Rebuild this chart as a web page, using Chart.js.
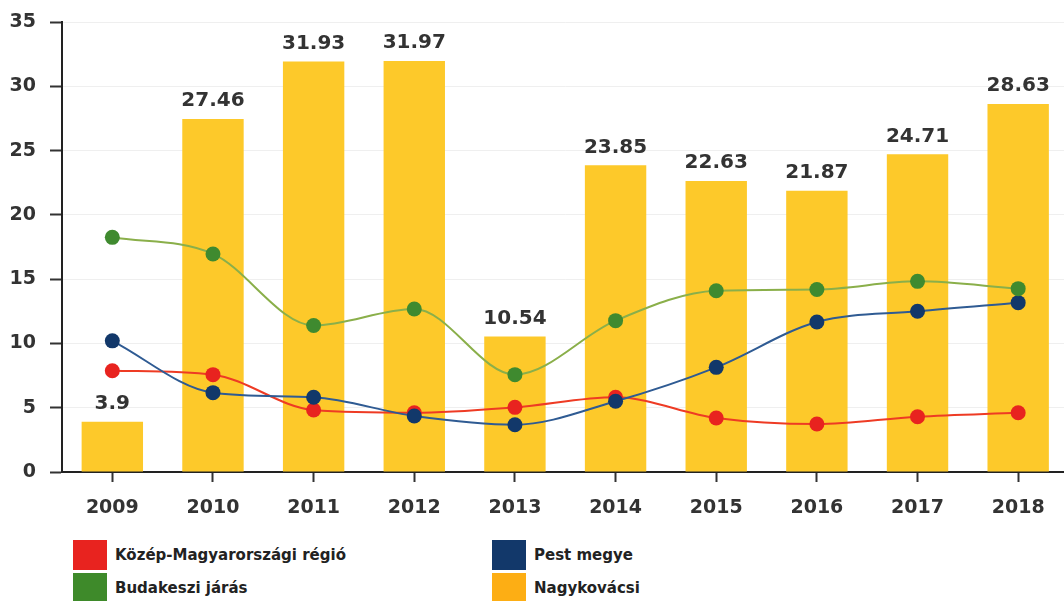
<!DOCTYPE html>
<html>
<head>
<meta charset="utf-8">
<script src="https://cdn.jsdelivr.net/npm/chart.js@4.4.0/dist/chart.umd.min.js"></script>
<style>
    body { margin: 0; background: #fff; overflow: hidden; }
    #wrap { position: relative; width: 1076px; height: 601px; }
    #graph { position: absolute; left: 0; top: 0; }
    .legend { position: absolute; font: bold 15px "DejaVu Sans", sans-serif; color: #222; }
    .item { position: absolute; white-space: nowrap; }
    .box { position: absolute; left: 0; top: 0; width: 34px; height: 30px; }
    .item span { position: absolute; left: 42px; top: 6px; }
</style>
</head>
<body>
<div id="wrap">
    <canvas id="graph" width="1076" height="530"></canvas>
    <div class="legend">
        <div class="item" style="left:73px; top:540px"><div class="box" style="background:#E8231F"></div><span>Közép-Magyarországi régió</span></div>
        <div class="item" style="left:73px; top:573px"><div class="box" style="background:#3E8A2A"></div><span>Budakeszi járás</span></div>
        <div class="item" style="left:492px; top:540px"><div class="box" style="background:#12386A"></div><span>Pest megye</span></div>
        <div class="item" style="left:492px; top:573px"><div class="box" style="background:#FDAE14"></div><span>Nagykovácsi</span></div>
    </div>
</div>
<script>
const years = ["2009", "2010", "2011", "2012", "2013", "2014", "2015", "2016", "2017", "2018"]
const nagykovacsi = [3.9, 27.46, 31.93, 31.97, 10.54, 23.85, 22.63, 21.87, 24.71, 28.63]
const kozepMagyar = [7.88, 7.57, 4.82, 4.61, 5.03, 5.81, 4.2, 3.73, 4.3, 4.61]
const pestMegye = [10.2, 6.17, 5.81, 4.36, 3.68, 5.5, 8.14, 11.67, 12.5, 13.17]
const budakeszi = [18.25, 16.96, 11.4, 12.68, 7.57, 11.77, 14.1, 14.2, 14.83, 14.26]
const yTicks = [0, 5, 10, 15, 20, 25, 30, 35]

const fontFamily = '"DejaVu Sans", sans-serif'

// value labels above the bars
const barLabels = {
    id: "barLabels",
    afterDatasetsDraw(chart) {
        const ctx = chart.ctx
        const meta = chart.getDatasetMeta(0)
        ctx.save()
        ctx.font = "bold 20px " + fontFamily
        ctx.fillStyle = "#333"
        ctx.textAlign = "center"
        ctx.textBaseline = "bottom"
        meta.data.forEach((bar, i) => {
            ctx.fillText(String(nagykovacsi[i]), bar.x, bar.y - 8)
        })
        ctx.restore()
    },
}

function lineSet(label, data, lineColor, pointColor) {
    return {
        type: "line",
        label: label,
        data: data,
        borderColor: lineColor,
        borderWidth: 2,
        backgroundColor: pointColor,
        pointBackgroundColor: pointColor,
        pointBorderWidth: 0,
        pointRadius: 7.5,
        cubicInterpolationMode: "monotone",
        fill: false,
        order: 1,
    }
}

const chartID = document.getElementById("graph").getContext("2d")
const graphic = new Chart(chartID, {
    type: "bar",
    data: {
        labels: years,
        datasets: [
            {
                label: "Nagykovácsi",
                data: nagykovacsi,
                backgroundColor: "#FDC92A",
                categoryPercentage: 1,
                barPercentage: 0.61,
                order: 10,
            },
            lineSet("Budakeszi járás", budakeszi, "#8AAF4A", "#3F8A2F"),
            lineSet("Pest megye", pestMegye, "#2F5B93", "#12386A"),
            lineSet("Közép-Magyarországi régió", kozepMagyar, "#EE3B24", "#E8231F"),
        ],
    },
    options: {
        responsive: false,
        animation: false,
        layout: { padding: { top: 22, right: 0, bottom: 0, left: 0 } },
        plugins: {
            legend: { display: false },
            tooltip: { enabled: false },
        },
        scales: {
            x: {
                offset: true,
                grid: { offset: false, drawOnChartArea: false, tickLength: 10, tickColor: "#333", tickWidth: 2 },
                border: { color: "#222", width: 2 },
                ticks: { color: "#333", font: { family: fontFamily, size: 19, weight: "bold" }, padding: 15 },
                afterFit(scale) {
                    scale.height = 58
                },
            },
            y: {
                min: 0,
                max: 35,
                afterBuildTicks(scale) {
                    scale.ticks = yTicks.map((v) => ({ value: v }))
                },
                grid: { color: "#efefef", tickLength: 12, tickColor: "#333", tickWidth: 2 },
                border: { color: "#222", width: 2 },
                ticks: { color: "#333", font: { family: fontFamily, size: 19, weight: "bold" }, padding: 14 },
                afterFit(scale) {
                    scale.width = 62
                    scale.paddingTop = 0
                    scale.paddingBottom = 0
                },
            },
        },
    },
    plugins: [barLabels],
})
</script>
</body>
</html>
